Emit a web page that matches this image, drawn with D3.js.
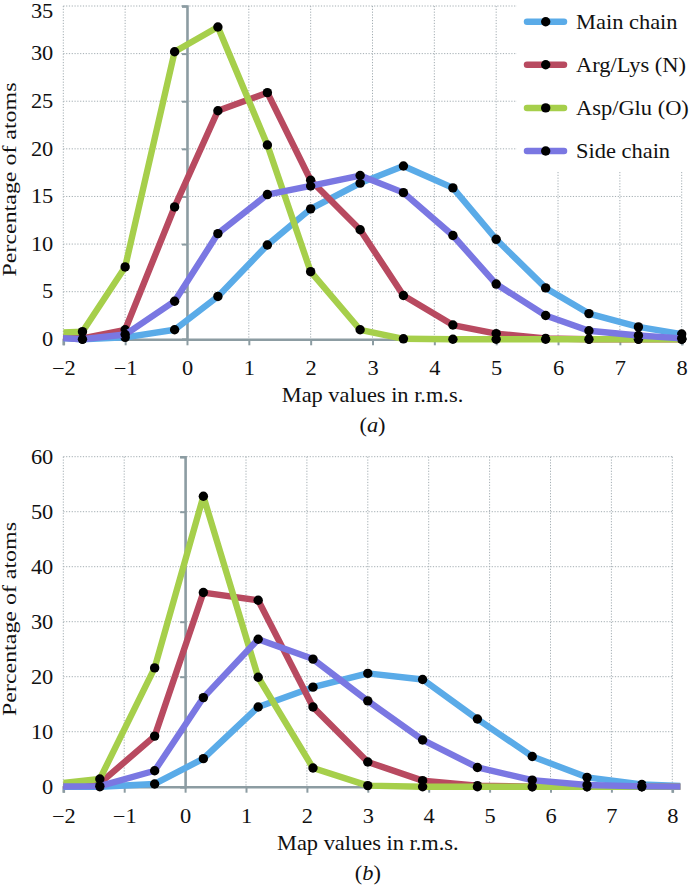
<!DOCTYPE html>
<html>
<head>
<meta charset="utf-8">
<script src="https://cdn.jsdelivr.net/npm/d3@7"></script>
<style>
  html, body { margin: 0; padding: 0; background: #fff; }
  svg { display: block; }
</style>
</head>
<body>
<svg id="chart" width="692" height="889"></svg>
<script>
// ---------- DATA ----------
const seriesNames = ["Main chain", "Arg/Lys (N)", "Asp/Glu (O)", "Side chain"];
const seriesColors = ["#5aabe8", "#b84a60", "#a6cf4b", "#7a77e2"];

// Panel (a): bin centres (first point lies left of the visible range)
const xA = [-2.43, -1.69, -1.0, -0.2, 0.5, 1.3, 2.0, 2.8, 3.5, 4.3, 5.0, 5.8, 6.5, 7.3, 8.0];
const mainA = [0.3, 0.0, 0.2, 1.0, 4.5, 9.9, 13.7, 16.4, 18.2, 15.9, 10.5, 5.4, 2.7, 1.3, 0.55];
const argA  = [0.3, 0.1, 1.0, 13.9, 24.0, 25.9, 16.7, 11.5, 4.6, 1.5, 0.6, 0.1, 0.0, 0.0, 0.0];
const aspA  = [0.6, 0.8, 7.6, 30.2, 32.8, 20.4, 7.1, 1.0, 0.05, 0.0, 0.0, 0.0, 0.0, 0.0, 0.0];
const sideA = [0.3, 0.0, 0.5, 4.0, 11.1, 15.2, 16.1, 17.2, 15.4, 10.9, 5.8, 2.5, 0.9, 0.4, 0.1];

// Panel (b)
const xB = [-2.3, -1.4, -0.5, 0.3, 1.2, 2.1, 3.0, 3.9, 4.8, 5.7, 6.6, 7.5, 8.4];
const mainB = [0.0, 0.0, 0.5, 5.1, 14.5, 18.1, 20.6, 19.5, 12.3, 5.5, 1.7, 0.4, 0.0];
const argB  = [0.0, 0.6, 9.2, 35.3, 33.9, 14.5, 4.5, 1.1, 0.2, 0.0, 0.0, 0.0, 0.0];
const aspB  = [0.3, 1.4, 21.6, 52.8, 19.9, 3.4, 0.2, 0.0, 0.0, 0.0, 0.0, 0.0, 0.0];
const sideB = [0.0, 0.1, 2.9, 16.2, 26.8, 23.2, 15.6, 8.5, 3.5, 1.2, 0.3, 0.05, 0.0];

const xTicks = [-2, -1, 0, 1, 2, 3, 4, 5, 6, 7, 8];
const yTicksA = [0, 5, 10, 15, 20, 25, 30, 35];
const yTicksB = [0, 10, 20, 30, 40, 50, 60];

const xTitle = "Map values in r.m.s.";
const yTitle = "Percentage of atoms";

// ---------- DRAW ----------
const FONT = "'Liberation Serif', 'DejaVu Serif', serif";
const svg = d3.select("#chart");
const fmt = d => (d < 0 ? "\u2212" + Math.abs(d) : String(d));
const SX = 1.12; // horizontal stretch of the reference's serif lettering
const FS = 20;

function txt(sel) {
  return sel.attr("font-family", FONT).attr("fill", "#111");
}

function panel(cfg) {
  const x = d3.scaleLinear().domain([-2, 8]).range([cfg.left, cfg.right]);
  const y = d3.scaleLinear().domain([0, cfg.ymax]).range([cfg.bottom, cfg.top]);
  const g = svg.append("g");
  const clipId = "clip" + cfg.id;
  svg.append("clipPath").attr("id", clipId)
    .append("rect").attr("x", cfg.left).attr("y", cfg.top - 10)
    .attr("width", cfg.right - cfg.left + 8).attr("height", cfg.bottom - cfg.top + 20);

  // grid
  const grid = g.append("g").attr("stroke", "#a3adb2").attr("stroke-width", 1)
    .attr("stroke-dasharray", "1.2,1.6").attr("fill", "none");
  cfg.yTicks.forEach(t => {
    if (t === 0) return;
    const xe = (cfg.legendBox && y(t) < cfg.legendBox.bottom) ? cfg.legendBox.left : x(8);
    grid.append("line").attr("x1", x(-2)).attr("x2", xe).attr("y1", y(t)).attr("y2", y(t));
  });
  xTicks.forEach(t => {
    if (t === 0) return;
    let y1 = y(cfg.ymax);
    if (cfg.legendBox && x(t) > cfg.legendBox.left) y1 = cfg.legendBox.bottom;
    grid.append("line").attr("x1", x(t)).attr("x2", x(t)).attr("y1", y1).attr("y2", y(0));
  });

  // axes (axis lines at x=0 and y=0)
  const axisCol = "#8c9ca2";
  const xAxis = d3.axisBottom(x).tickValues(xTicks).tickSize(6).tickPadding(16).tickFormat(fmt);
  const xa = g.append("g").attr("transform", `translate(0,${y(0)})`).call(xAxis);
  xa.attr("font-family", null).attr("font-size", null);
  xa.select(".domain").attr("stroke", axisCol).attr("stroke-width", 2.6);
  xa.selectAll(".tick line").attr("stroke", axisCol).attr("stroke-width", 2);
  txt(xa.selectAll(".tick text")).attr("font-size", FS)
    .attr("transform", `scale(${SX},1)`).attr("dy", "0.71em");

  const yAxis = d3.axisLeft(y).tickValues(cfg.yTicks).tickSize(5).tickFormat(fmt);
  const ya = g.append("g").attr("transform", `translate(${x(0)},0)`).call(yAxis);
  ya.select(".domain").attr("stroke", axisCol).attr("stroke-width", 2.6);
  ya.selectAll(".tick line").attr("stroke", axisCol).attr("stroke-width", 2);
  ya.selectAll(".tick text").remove();

  // y tick labels at the left of the plot
  txt(g.append("g").selectAll("text").data(cfg.yTicks).join("text"))
    .attr("transform", d => `translate(${cfg.left - 10},${Math.max(y(d), 11)}) scale(${SX},1)`)
    .attr("text-anchor", "end").attr("dy", "0.34em")
    .attr("font-size", FS).text(fmt);

  // legend background
  if (cfg.legendBox) {
    g.append("rect").attr("x", cfg.legendBox.left).attr("y", 0)
      .attr("width", 692 - cfg.legendBox.left).attr("height", cfg.legendBox.bottom)
      .attr("fill", "#fff");
  }

  // series
  const line = d3.line().x((d, i) => x(cfg.xs[i])).y(d => y(d));
  const sg = g.append("g").attr("clip-path", `url(#${clipId})`);
  cfg.series.forEach((vals, k) => {
    const s = sg.append("g");
    s.append("path").datum(vals).attr("d", line)
      .attr("fill", "none").attr("stroke", seriesColors[k]).attr("stroke-width", 6.4)
      .attr("stroke-linejoin", "round").attr("stroke-linecap", "round");
    s.selectAll("circle").data(vals.map((v, i) => [cfg.xs[i], v]).filter(p => p[0] >= -2 && p[0] <= 8.01))
      .join("circle").attr("cx", p => x(p[0])).attr("cy", p => y(p[1])).attr("r", 4.7).attr("fill", "#000");
  });

  // titles
  const cx = (cfg.left + cfg.right) / 2;
  txt(g.append("text")).attr("transform", `translate(${cx},${y(0) + 63}) scale(${SX},1)`)
    .attr("text-anchor", "middle").attr("font-size", FS).text(xTitle);
  const lab = txt(g.append("text")).attr("transform", `translate(${cx},${y(0) + 93}) scale(${SX},1)`)
    .attr("text-anchor", "middle").attr("font-size", FS);
  lab.append("tspan").text("(");
  lab.append("tspan").attr("font-style", "italic").text(cfg.label);
  lab.append("tspan").text(")");
  txt(g.append("text"))
    .attr("transform", `translate(16,${cfg.titleY}) rotate(-90) scale(1.33,1)`)
    .attr("text-anchor", "middle").attr("font-size", 18).text(yTitle);

  // legend entries
  if (cfg.legendBox) {
    const lg = g.append("g");
    seriesNames.forEach((name, k) => {
      const yy = 21.7 + k * 43.1;
      lg.append("line").attr("x1", 527).attr("x2", 564).attr("y1", yy).attr("y2", yy)
        .attr("stroke", seriesColors[k]).attr("stroke-width", 6.5).attr("stroke-linecap", "round");
      lg.append("circle").attr("cx", 545.7).attr("cy", yy).attr("r", 4.7).attr("fill", "#000");
      txt(lg.append("text")).attr("transform", `translate(576,${yy}) scale(1.02,1)`)
        .attr("dy", "0.34em").attr("font-size", 22).text(name);
    });
  }
}

panel({ id: "a", left: 63.3, right: 681.7, top: 6, bottom: 339.3, ymax: 35,
        yTicks: yTicksA, xs: xA, series: [mainA, argA, aspA, sideA], label: "a", titleY: 179.5,
        legendBox: { left: 517, bottom: 172 } });
panel({ id: "b", left: 63.3, right: 672.3, top: 456.7, bottom: 786.7, ymax: 60,
        yTicks: yTicksB, xs: xB, series: [mainB, argB, aspB, sideB], label: "b", titleY: 619 });
</script>
</body>
</html>
